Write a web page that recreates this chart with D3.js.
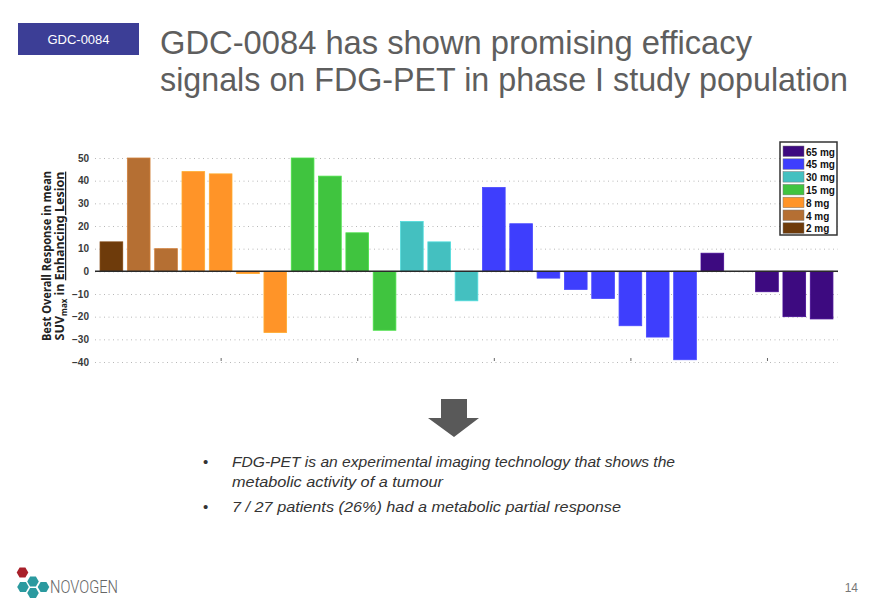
<!DOCTYPE html>
<html lang="en">
<head>
  <meta charset="UTF-8">
  <title>GDC-0084 FDG-PET</title>
  <script src="https://d3js.org/d3.v7.min.js"></script>
  <style>
    body { margin: 0; background: #fff; }
    svg { display: block; }
  </style>
</head>
<body>
  <div id="chart"></div>
  <script>
    // patients in plotted order, dose group and best response (%)
    const doses = ["2 mg", "4 mg", "4 mg", "8 mg", "8 mg", "8 mg", "8 mg",
      "15 mg", "15 mg", "15 mg", "15 mg", "30 mg", "30 mg", "30 mg",
      "45 mg", "45 mg", "45 mg", "45 mg", "45 mg", "45 mg", "45 mg", "45 mg",
      "65 mg", "65 mg", "65 mg", "65 mg", "65 mg"]
    const values = [13, 50, 10, 44, 43, -1, -27, 50, 42, 17, -26, 22, 13, -13,
      37, 21, -3, -8, -12, -24, -29, -39, 8, 0, -9, -20, -21]
    const legendDoses = ["65 mg", "45 mg", "30 mg", "15 mg", "8 mg", "4 mg", "2 mg"]
    const legendColors = ["#3d0a80", "#3e3efd", "#44c0c0", "#40c43f", "#ff9428", "#b56f33", "#6e3b0b"]
    const yTicks = [-40, -30, -20, -10, 0, 10, 20, 30, 40, 50]
    const xTicks = [5, 10, 15, 20, 25]
    const bullets = [
      ["FDG-PET is an experimental imaging technology that shows the", "metabolic activity of a tumour"],
      ["7 / 27 patients (26%) had a metabolic partial response"]
    ]
    const bulletWidths = [[443, 211], [389]]

    const data = values.map((v, i) => ({ n: i + 1, dose: doses[i], value: v }))

    const W = 880, H = 609
    const svg = d3.select("#chart").append("svg")
      .attr("width", W).attr("height", H)

    // header
    svg.append("rect")
      .attr("x", 18).attr("y", 23).attr("width", 121).attr("height", 32)
      .attr("fill", "#3c3e96")
    svg.append("text")
      .attr("x", 78.5).attr("y", 44)
      .attr("text-anchor", "middle")
      .style("font", "13px 'Liberation Sans', Arial, sans-serif")
      .attr("fill", "#fff")
      .text("GDC-0084")

    const title = svg.append("g")
      .style("font", "33px 'Liberation Sans', Arial, sans-serif")
      .attr("fill", "#5e5e5e")
    title.append("text").attr("x", 160).attr("y", 54)
      .attr("textLength", 592).attr("lengthAdjust", "spacingAndGlyphs")
      .text("GDC-0084 has shown promising efficacy")
    title.append("text").attr("x", 160).attr("y", 91)
      .attr("textLength", 688).attr("lengthAdjust", "spacingAndGlyphs")
      .text("signals on FDG-PET in phase I study population")

    // chart
    const x = d3.scaleLinear().domain([0.4, 27.6]).range([95, 838])
    const y = d3.scaleLinear().domain([-40, 50]).range([362, 158])
    const color = d3.scaleOrdinal().domain(legendDoses).range(legendColors)
    const barW = (x(2) - x(1)) * 0.83

    const g = svg.append("g")

    // dotted grid
    g.append("g")
      .attr("transform", `translate(${x.range()[0]},0)`)
      .call(d3.axisLeft(y).tickValues(yTicks).tickSize(-(x.range()[1] - x.range()[0])).tickFormat(""))
      .call(a => a.select(".domain").remove())
      .call(a => a.selectAll("line")
        .attr("stroke", "#b8b8b8").attr("stroke-width", 1)
        .attr("stroke-dasharray", "1,3.5"))

    // tick labels
    g.append("g")
      .attr("transform", `translate(${x.range()[0] - 4},0)`)
      .call(d3.axisLeft(y).tickValues(yTicks).tickSize(0).tickPadding(2))
      .call(a => a.select(".domain").remove())
      .call(a => a.selectAll("text")
        .attr("fill", "#3a3a3a")
        .style("font", "bold 10px 'Liberation Sans', Arial, sans-serif"))

    // small x ticks along the bottom
    g.append("g")
      .attr("transform", `translate(0,${y(-40) - 1})`)
      .call(d3.axisBottom(x).tickValues(xTicks).tickSize(-3).tickFormat(""))
      .call(a => a.select(".domain").remove())
      .call(a => a.selectAll("line").attr("stroke", "#666"))

    g.selectAll("rect.bar")
      .data(data.filter(d => d.value !== 0))
      .join("rect")
      .attr("class", "bar")
      .attr("x", d => x(d.n) - barW / 2)
      .attr("width", barW)
      .attr("y", d => y(Math.max(0, d.value)))
      .attr("height", d => Math.abs(y(d.value) - y(0)))
      .attr("fill", d => color(d.dose))
      .attr("stroke", d => d3.color(color(d.dose)).brighter(0.4))
      .attr("stroke-width", 0.8)

    g.append("line")
      .attr("x1", x.range()[0]).attr("x2", x.range()[1])
      .attr("y1", y(0)).attr("y2", y(0))
      .attr("stroke", "#2a2a2a").attr("stroke-width", 1.5)

    // y axis title
    const yt = svg.append("text")
      .attr("transform", `translate(0,256) rotate(-90)`)
      .attr("text-anchor", "middle")
      .attr("fill", "#222")
      .style("font", "bold 12.5px 'Noto Sans', 'Open Sans', sans-serif")
    yt.append("tspan").attr("x", 0).attr("y", 51)
      .attr("textLength", 170).attr("lengthAdjust", "spacingAndGlyphs")
      .text("Best Overall Response in mean")
    const l2 = yt.append("tspan").attr("x", 0).attr("y", 64)
    l2.append("tspan").text("SUV")
    l2.append("tspan").attr("dy", 3).style("font-size", "8px").text("max")
    l2.append("tspan").attr("dy", -3).text(" in ")
    l2.append("tspan").attr("text-decoration", "underline").text("Enhancing Lesion")

    // legend
    const lg = svg.append("g").attr("transform", "translate(780,142)")
    lg.append("rect").attr("width", 57).attr("height", 93)
      .attr("fill", "#fff").attr("stroke", "#333").attr("stroke-width", 1.5)
    const item = lg.selectAll("g.item").data(legendDoses).join("g")
      .attr("class", "item")
      .attr("transform", (d, i) => `translate(3,${4 + i * 12.8})`)
    item.append("rect").attr("width", 21).attr("height", 10.5)
      .attr("fill", d => color(d))
      .attr("stroke", "#777").attr("stroke-width", 0.5)
    item.append("text").attr("x", 23).attr("y", 9.5)
      .style("font", "bold 10px 'Liberation Sans', Arial, sans-serif")
      .attr("fill", "#111")
      .text(d => d)

    // arrow
    svg.append("path")
      .attr("d", "M441,399 H467 V418 H479 L454,437 L428,418 H441 Z")
      .attr("fill", "#595959")

    // bullets
    const bt = svg.append("g")
      .attr("fill", "#333")
      .style("font", "italic 15px 'Liberation Sans', Arial, sans-serif")
    let by = 467
    bullets.forEach((lines, i) => {
      bt.append("text").attr("x", 203).attr("y", by).style("font-style", "normal").text("•")
      lines.forEach((t, j) => {
        bt.append("text").attr("x", 232).attr("y", by + j * 19.5)
          .attr("textLength", bulletWidths[i][j]).attr("lengthAdjust", "spacingAndGlyphs")
          .text(t)
      })
      by += lines.length * 19.5 + 5.5
    })

    // logo
    const hex = (cx, cy, r) => {
      const pts = d3.range(6).map(k => {
        const a = Math.PI / 3 * k
        return [cx + r * Math.cos(a), cy + r * Math.sin(a)]
      })
      return "M" + pts.join("L") + "Z"
    }
    const logo = svg.append("g")
    logo.append("path").attr("d", hex(22.5, 572.5, 5.8)).attr("fill", "#a8202a")
    ;[[23, 587], [33, 581.5], [43.5, 587], [33, 593]].forEach(c => {
      logo.append("path").attr("d", hex(c[0], c[1], 5.8)).attr("fill", "#2b9a9f")
    })
    logo.append("text").attr("x", 50).attr("y", 593)
      .attr("textLength", 68).attr("lengthAdjust", "spacingAndGlyphs")
      .style("font", "300 18px Roboto, sans-serif")
      .attr("fill", "#666")
      .text("NOVOGEN")

    svg.append("text").attr("x", 858).attr("y", 592)
      .attr("text-anchor", "end")
      .style("font", "12px 'Liberation Sans', Arial, sans-serif")
      .attr("fill", "#777")
      .text("14")
  </script>
</body>
</html>
